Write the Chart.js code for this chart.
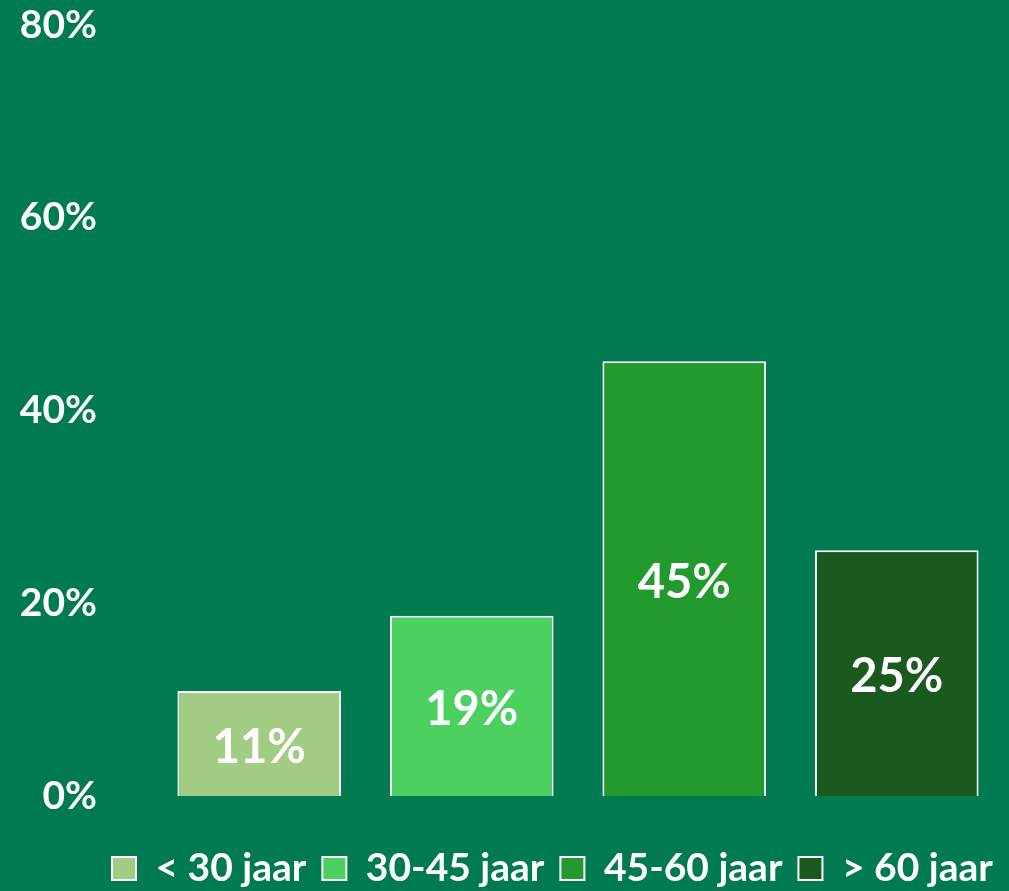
<!DOCTYPE html>
<html>
<head>
<meta charset="utf-8">
<script src="https://cdn.jsdelivr.net/npm/chart.js@4.4.1/dist/chart.umd.min.js"></script>
<style>
    html, body { margin: 0; padding: 0; background: #007A51; }
    #wrap { width: 1009px; height: 891px; position: relative; }
</style>
</head>
<body>
<div id="wrap"><canvas id="chart"></canvas></div>
<script>
// ==================== Data ====================
const ageGroups = ['< 30 jaar', '30-45 jaar', '45-60 jaar', '> 60 jaar'];
const shares = [10.9, 18.7, 45.1, 25.5];
const shareLabels = ['11%', '19%', '45%', '25%'];
const yTicks = [0, 20, 40, 60, 80];
const barColors = ['#A2CB83', '#4CD060', '#229A2E', '#1A5A1E'];

const FONT = 'Lato, "Open Sans", sans-serif';
const LEGEND_X = 112;   // left edge of the first legend box

// labels in the middle of each bar
const barValueLabels = {
    id: 'barValueLabels',
    afterDatasetsDraw(chart) {
        const ctx = chart.ctx;
        const meta = chart.getDatasetMeta(0);
        ctx.save();
        ctx.fillStyle = '#fff';
        ctx.font = `bold 47px ${FONT}`;
        ctx.textAlign = 'center';
        ctx.textBaseline = 'middle';
        meta.data.forEach((bar, i) => {
            ctx.fillText(shareLabels[i], bar.x, (bar.y + bar.base) / 2 + 4);
        });
        ctx.restore();
    }
};

// legend is not centred under the plot in the original, move it over
const legendShift = {
    id: 'legendShift',
    afterLayout(chart) {
        const lg = chart.legend;
        if (!lg) return;
        const dx = LEGEND_X - lg.options.labels.padding - lg.left;
        lg.left += dx;
        lg.right += dx;
    }
};

new Chart(document.getElementById('chart').getContext('2d'), {
    type: 'bar',
    data: {
        labels: ageGroups,
        datasets: [{
            data: shares,
            backgroundColor: barColors,
            borderColor: '#fff',
            borderWidth: 2,
            barPercentage: 0.77,
            categoryPercentage: 1
        }]
    },
    options: {
        responsive: true,
        maintainAspectRatio: false,
        animation: false,
        layout: { padding: { top: 25, left: 16, right: 6, bottom: -7 } },
        plugins: {
            tooltip: { enabled: false },
            legend: {
                position: 'bottom',
                align: 'start',
                onClick: null,
                labels: {
                    color: '#fff',
                    font: { family: FONT, size: 39, weight: 'bold' },
                    boxWidth: 24,
                    boxHeight: 23,
                    padding: 16,
                    generateLabels: () => ageGroups.map((g, i) => ({
                        text: g,
                        fillStyle: barColors[i],
                        strokeStyle: '#fff',
                        lineWidth: 2,
                        fontColor: '#fff',
                        index: i
                    }))
                }
            }
        },
        scales: {
            x: {
                grid: { display: false, drawTicks: false },
                border: { display: false },
                ticks: { display: false },
                afterFit: axis => { axis.height = 37; }
            },
            y: {
                min: 0,
                max: 80,
                grid: { display: false, drawTicks: false },
                border: { display: false },
                afterBuildTicks: axis => { axis.ticks = yTicks.map(v => ({ value: v })); },
                afterFit: axis => {
                    axis.width = 153 - 16;
                    axis.paddingTop = 0;
                    axis.paddingBottom = 0;
                },
                ticks: {
                    color: '#fff',
                    padding: 56,
                    font: { family: FONT, size: 39, weight: 'bold' },
                    callback: v => v + '%'
                }
            }
        }
    },
    plugins: [barValueLabels, legendShift]
});
</script>
</body>
</html>
